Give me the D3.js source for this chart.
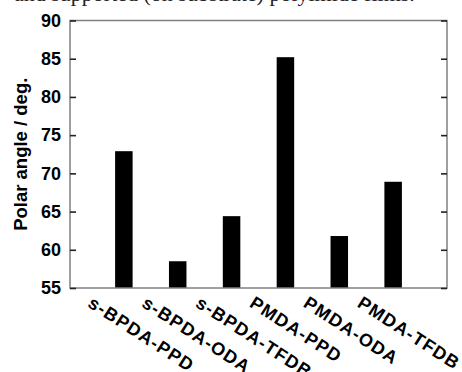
<!DOCTYPE html>
<html>
<head>
<meta charset="utf-8">
<script src="https://cdn.jsdelivr.net/npm/d3@7"></script>
<style>
  body { margin: 0; background: #fff; }
  svg { display: block; }
</style>
</head>
<body>
<div id="chart"></div>
<script>
// Polar angle per polyimide film
const categories = ['s-BPDA-PPD', 's-BPDA-ODA', 's-BPDA-TFDB', 'PMDA-PPD', 'PMDA-ODA', 'PMDA-TFDB'];
const polarAngle = [72.9, 58.5, 64.4, 85.2, 61.8, 68.9];
const yTicks = [55, 60, 65, 70, 75, 80, 85, 90];
const yLabel = 'Polar angle / deg.';
const captionText = 'and supported (on substrate) polyimide films.';

const width = 462;
const height = 372;
const margin = { top: 20.5, right: 15, bottom: 84, left: 70 };
const innerWidth = width - margin.left - margin.right;
const innerHeight = height - margin.top - margin.bottom;

const svg = d3.select('#chart')
    .append('svg')
    .attr('width', width)
    .attr('height', height);

// clipped caption line from the page above the figure
svg.append('text')
    .attr('x', 14)
    .attr('y', 0.5)
    .style('font-family', '"Liberation Serif", serif')
    .style('font-size', '22px')
    .style('fill', '#222')
    .text(captionText);

const g = svg.append('g')
    .attr('transform', `translate(${margin.left},${margin.top})`);

const xScale = d3.scalePoint()
    .domain(categories)
    .range([0, innerWidth])
    .padding(1);

const yScale = d3.scaleLinear()
    .domain([55, 90])
    .range([innerHeight, 0]);

const barWidth = 17.5;

// bars
g.selectAll('.bar')
    .data(categories)
    .enter()
    .append('rect')
    .attr('class', 'bar')
    .attr('x', d => xScale(d) - barWidth / 2)
    .attr('y', (d, i) => yScale(polarAngle[i]))
    .attr('width', barWidth)
    .attr('height', (d, i) => innerHeight - yScale(polarAngle[i]))
    .style('fill', '#000');

// frame
g.append('rect')
    .attr('width', innerWidth)
    .attr('height', innerHeight)
    .style('fill', 'none')
    .style('stroke', '#808080')
    .style('stroke-width', 1.5);

// left axis, ticks pointing inward
const yAxis = d3.axisLeft(yScale)
    .tickValues(yTicks)
    .tickSizeInner(-6)
    .tickSizeOuter(0)
    .tickPadding(9);

const yAxisG = g.append('g')
    .attr('class', 'y-axis')
    .call(yAxis);

yAxisG.select('.domain').remove();
yAxisG.selectAll('.tick line')
    .style('stroke', '#222')
    .style('stroke-width', 1.6);
yAxisG.selectAll('.tick text')
    .style('font-family', '"Liberation Sans", Arial, sans-serif')
    .style('font-weight', 'bold')
    .style('font-size', '18px')
    .style('fill', '#000');

// right axis mirror ticks
const yAxisRight = d3.axisRight(yScale)
    .tickValues(yTicks)
    .tickSizeInner(-6)
    .tickSizeOuter(0)
    .tickFormat('');

const yRightG = g.append('g')
    .attr('transform', `translate(${innerWidth},0)`)
    .call(yAxisRight);

yRightG.select('.domain').remove();
yRightG.selectAll('.tick line')
    .style('stroke', '#222')
    .style('stroke-width', 1.6);

// category labels, rotated
g.selectAll('.cat-label')
    .data(categories)
    .enter()
    .append('text')
    .attr('class', 'cat-label')
    .attr('transform', d => `translate(${xScale(d) - 37},${innerHeight + 18}) rotate(33)`)
    .attr('text-anchor', 'start')
    .style('font-family', '"Liberation Sans", Arial, sans-serif')
    .style('font-weight', 'bold')
    .style('font-size', '18px')
    .style('letter-spacing', '1.2px')
    .style('fill', '#000')
    .text(d => d);

// y axis title
g.append('text')
    .attr('transform', 'rotate(-90)')
    .attr('x', -innerHeight / 2)
    .attr('y', -margin.left + 27)
    .attr('text-anchor', 'middle')
    .style('font-family', '"Liberation Sans", Arial, sans-serif')
    .style('font-weight', 'bold')
    .style('font-size', '18.5px')
    .style('fill', '#000')
    .text(yLabel);
</script>
</body>
</html>
